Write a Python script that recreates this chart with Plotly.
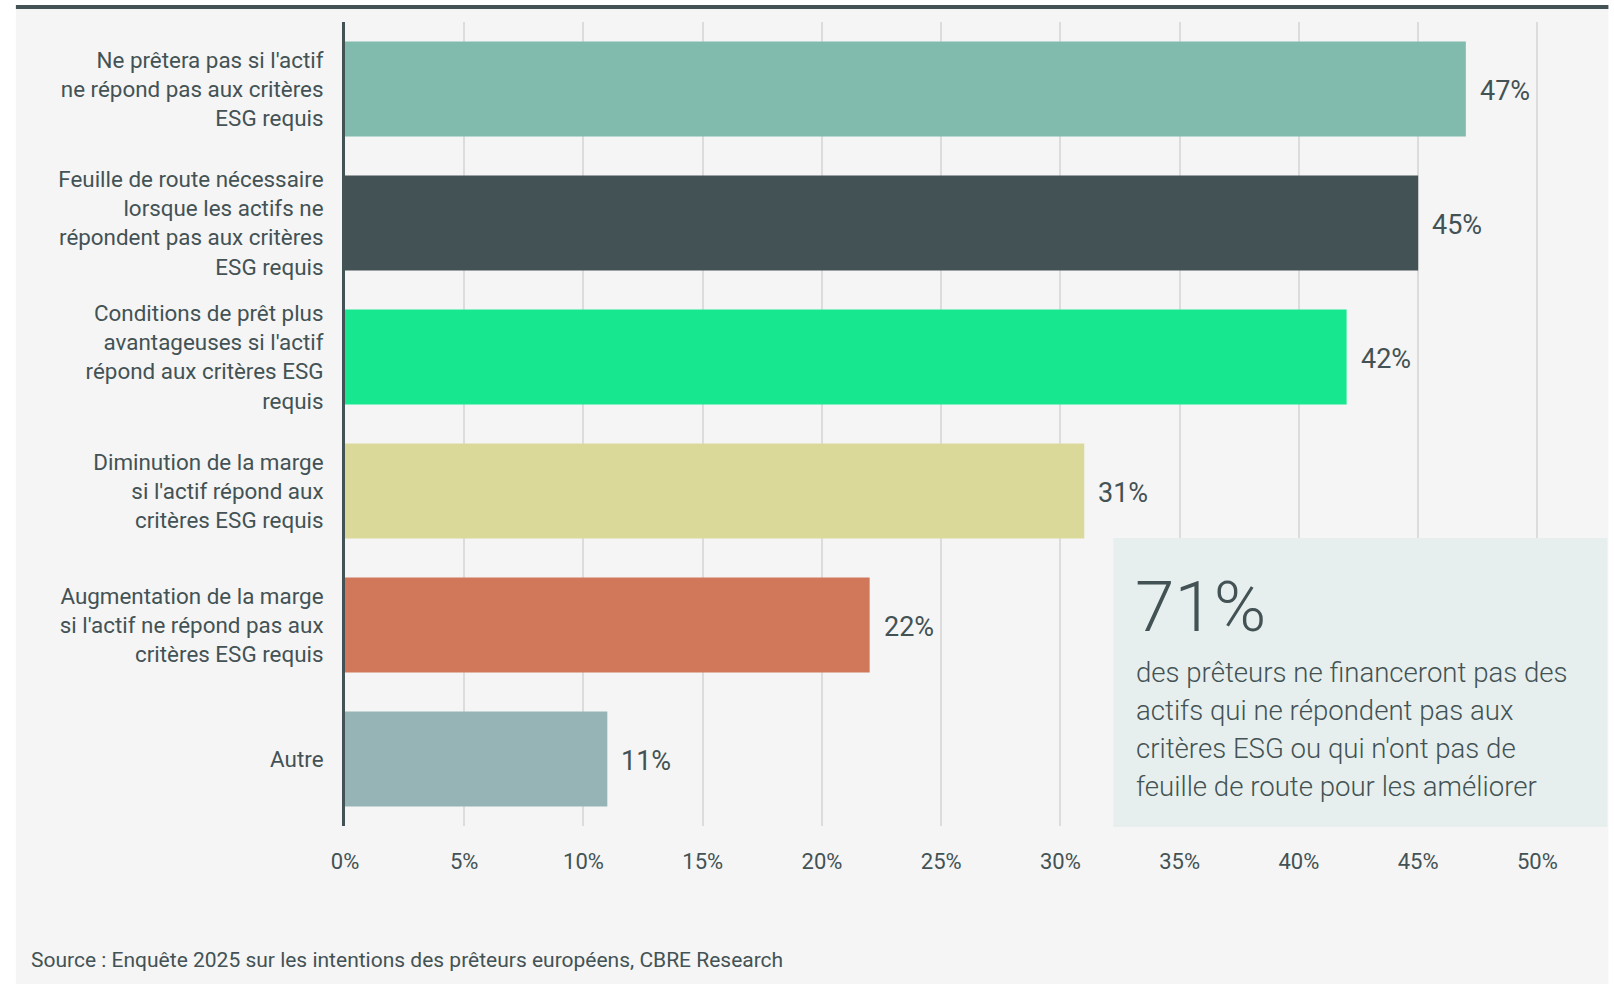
import plotly.graph_objects as go

# Survey answers (share of lenders, %)
categories = [
    "Ne prêtera pas si l'actif<br>ne répond pas aux critères<br>ESG requis",
    "Feuille de route nécessaire<br>lorsque les actifs ne<br>répondent pas aux critères<br>ESG requis",
    "Conditions de prêt plus<br>avantageuses si l'actif<br>répond aux critères ESG<br>requis",
    "Diminution de la marge<br>si l'actif répond aux<br>critères ESG requis",
    "Augmentation de la marge<br>si l'actif ne répond pas aux<br>critères ESG requis",
    "Autre",
]
values = [47, 45, 42, 31, 22, 11]
bar_colors = ["#80BBAD", "#435254", "#17E88F", "#DBD99A", "#D2785A", "#96B3B6"]

tick_vals = [0, 5, 10, 15, 20, 25, 30, 35, 40, 45, 50]
tick_text = [f"{v}%" for v in tick_vals]

callout_value = "71%"
callout_lines = [
    "des prêteurs ne financeront pas des",
    "actifs qui ne répondent pas aux",
    "critères ESG ou qui n'ont pas de",
    "feuille de route pour les améliorer",
]
source_text = "Source : Enquête 2025 sur les intentions des prêteurs européens, CBRE Research"

TEXT = "#435254"
FONT = "Roboto"

# Canvas / plot-area geometry (pixels)
W, H = 1614, 984
L, T = 345, 22
X_MAX = 52.5
PX_PER_UNIT = 23.84
PW = X_MAX * PX_PER_UNIT
PH = 804
R = W - L - PW
B = H - T - PH


def xp(px):
    return (px - L) / PW


def yp(py):
    return (T + PH - py) / PH


fig = go.Figure()
fig.add_trace(go.Bar(
    x=values,
    y=categories,
    orientation="h",
    marker=dict(color=bar_colors, line=dict(width=0)),
    hoverinfo="skip",
    showlegend=False,
))

# Value labels at the end of each bar
for cat, val in zip(categories, values):
    fig.add_annotation(
        x=val, y=cat, xref="x", yref="y",
        text=f"{val}%", showarrow=False,
        xanchor="left", yanchor="middle", xshift=12, yshift=-2,
        font=dict(family=FONT, size=27, color=TEXT),
    )

shapes = [
    # light panel behind the chart
    dict(type="rect", xref="paper", yref="paper", layer="below",
         x0=xp(16), x1=xp(1608), y0=yp(984), y1=yp(5),
         fillcolor="#F5F5F5", line=dict(width=0)),
    # dark rule along the top of the panel
    dict(type="rect", xref="paper", yref="paper", layer="below",
         x0=xp(16), x1=xp(1608), y0=yp(9), y1=yp(5),
         fillcolor="#435254", line=dict(width=0)),
    # callout box
    dict(type="rect", xref="paper", yref="paper", layer="above",
         x0=xp(1113), x1=xp(1607), y0=yp(827), y1=yp(538),
         fillcolor="#E6EFED", line=dict(width=0)),
]

annotations = [
    dict(xref="paper", yref="paper", x=xp(1133), y=yp(606),
         text=callout_value, showarrow=False, xanchor="left", yanchor="middle",
         font=dict(family=FONT, size=71, color=TEXT, weight=300)),
    dict(xref="paper", yref="paper", x=xp(29), y=yp(960),
         text=source_text, showarrow=False, xanchor="left", yanchor="middle",
         font=dict(family=FONT, size=21, color=TEXT)),
]
for i, line in enumerate(callout_lines):
    annotations.append(dict(
        xref="paper", yref="paper", x=xp(1134), y=yp(672 + i * 38.3),
        text=line, showarrow=False, xanchor="left", yanchor="middle",
        font=dict(family=FONT, size=27.6, color=TEXT, weight=300)))

fig.update_layout(
    width=W, height=H,
    margin=dict(l=L, r=R, t=T, b=B, pad=0),
    paper_bgcolor="white",
    plot_bgcolor="rgba(0,0,0,0)",
    bargap=0.29,
    shapes=shapes,
    font=dict(family=FONT, color=TEXT),
)
for a in annotations:
    fig.add_annotation(**a)

fig.update_xaxes(
    range=[0, X_MAX], tickvals=tick_vals, ticktext=tick_text,
    showgrid=True, gridcolor="#DCDCDC", gridwidth=2,
    zeroline=False, showline=False, ticks="",
    ticklabelstandoff=20,
    tickfont=dict(family=FONT, size=22, color=TEXT),
    fixedrange=True,
)
fig.update_yaxes(
    range=[5.5, -0.5], type="category",
    showgrid=False, zeroline=False,
    showline=True, linecolor="#435254", linewidth=3,
    ticks="", ticklabelstandoff=14,
    tickfont=dict(family=FONT, size=22.4, color=TEXT),
    fixedrange=True,
)

fig.write_html("out.html")
